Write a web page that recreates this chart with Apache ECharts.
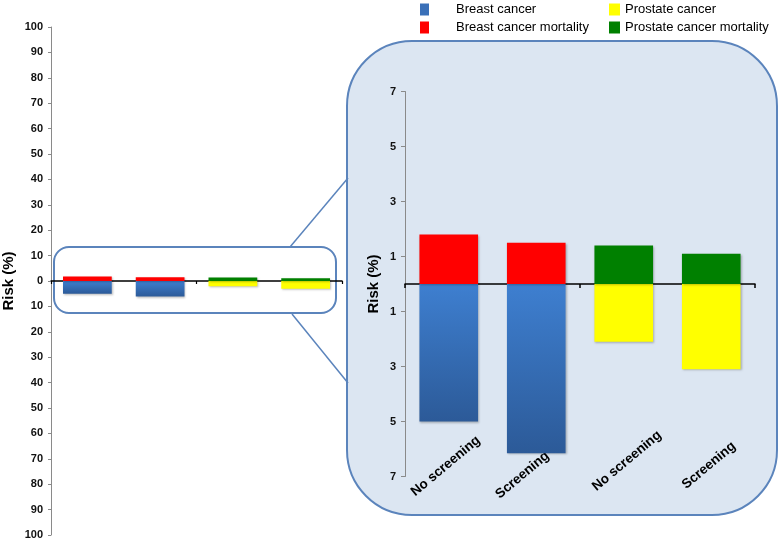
<!DOCTYPE html>
<html>
<head>
<meta charset="utf-8">
<script src="https://cdn.jsdelivr.net/npm/echarts@6/dist/echarts.min.js"></script>
<style>
html,body{margin:0;padding:0;background:#fff;}
#chart{width:779px;height:539px;}
</style>
</head>
<body>
<div id="chart"></div>
<script>
// ---- data ----
var categories = ['No screening', 'Screening', 'No screening', 'Screening'];
var breastMortality = [1.8, 1.5];
var breastIncidence = [5.0, 6.15];
var prostateMortality = [1.4, 1.1];
var prostateIncidence = [2.1, 3.1];
var leftAxisRange = [-100, 100, 10];   // min, max, interval (labels shown as absolute values)
var rightAxisRange = [-7, 7, 2];
var legendNames = ['Breast cancer', 'Breast cancer mortality', 'Prostate cancer', 'Prostate cancer mortality'];

var FONT = 'Liberation Sans, Arial, Helvetica, sans-serif';
var BLUE_GRAD = {
  type: 'linear', x: 0, y: 0, x2: 0, y2: 1,
  colorStops: [{offset: 0, color: '#3e7fd0'}, {offset: 1, color: '#2c5a98'}]
};
var colors = {
  'Breast cancer': BLUE_GRAD,
  'Breast cancer mortality': '#ff0000',
  'Prostate cancer': '#ffff00',
  'Prostate cancer mortality': '#008000'
};

function seriesData(name) {
  if (name === 'Breast cancer mortality') return [breastMortality[0], breastMortality[1], '-', '-'];
  if (name === 'Breast cancer') return [-breastIncidence[0], -breastIncidence[1], '-', '-'];
  if (name === 'Prostate cancer mortality') return ['-', '-', prostateMortality[0], prostateMortality[1]];
  return ['-', '-', -prostateIncidence[0], -prostateIncidence[1]];
}

var series = [];
[[0, 0, 'R'], [2, 1, 'L']].forEach(function (cfg) {
  legendNames.forEach(function (n) {
    series.push({
      name: n, type: 'bar', stack: cfg[2],
      xAxisIndex: cfg[0], yAxisIndex: cfg[1],
      barWidth: '67%',
      data: seriesData(n),
      itemStyle: {
        color: colors[n],
        shadowColor: 'rgba(0,0,0,0.25)', shadowBlur: 2, shadowOffsetX: 1, shadowOffsetY: 1
      },
      emphasis: {disabled: true},
      animation: false
    });
  });
});

function absFmt(v) { return String(Math.abs(Math.round(v))); }

// label nudges along the rotated text direction (layout only)
var labelRich = {
  p0: {padding: [0, 8, 0, 0]},
  p1: {padding: [0, 36, 0, 0]},
  p2: {padding: [0, 0, 0, 8]},
  p3: {padding: [0, 6, 0, 0]}
};
['p0', 'p1', 'p2', 'p3'].forEach(function (k) {
  labelRich[k].fontFamily = FONT;
  labelRich[k].fontSize = 13.5;
  labelRich[k].fontWeight = 'bold';
  labelRich[k].color = '#000';
});

var option = {
  animation: false,
  textStyle: {fontFamily: FONT},
  legend: [
    {
      left: 420, top: 3, padding: 0, orient: 'vertical', itemWidth: 9, itemHeight: 12, itemGap: 5,
      icon: 'rect', selectedMode: false,
      data: [{name: 'Breast cancer', itemStyle: {color: '#3a70b8'}}, {name: 'Breast cancer mortality'}],
      textStyle: {fontFamily: FONT, fontSize: 13, color: '#000', padding: [0, 0, 0, 22]}
    },
    {
      left: 609, top: 3, padding: 0, orient: 'vertical', itemWidth: 11, itemHeight: 12, itemGap: 5,
      icon: 'rect', selectedMode: false,
      data: ['Prostate cancer', 'Prostate cancer mortality'],
      textStyle: {fontFamily: FONT, fontSize: 13, color: '#000'}
    }
  ],
  graphic: [
    {type: 'rect', z: -10, silent: true,
      shape: {x: 347, y: 41, width: 430, height: 474, r: 65},
      style: {fill: '#dce6f2', stroke: '#5b84bc', lineWidth: 2}},
    {type: 'rect', z: -10, silent: true,
      shape: {x: 54, y: 247, width: 282, height: 66, r: 15},
      style: {fill: 'none', stroke: '#5b84bc', lineWidth: 2}},
    {type: 'line', z: -10, silent: true,
      shape: {x1: 290, y1: 247, x2: 348, y2: 178},
      style: {stroke: '#5b84bc', lineWidth: 1.5}},
    {type: 'line', z: -10, silent: true,
      shape: {x1: 292, y1: 314, x2: 348, y2: 383},
      style: {stroke: '#5b84bc', lineWidth: 1.5}}
  ],
  grid: [
    {left: 405, right: 24, top: 91.5, bottom: 62.5, outerBoundsMode: 'none', containLabel: false},
    {left: 51, right: 437, top: 27, bottom: 4, outerBoundsMode: 'none', containLabel: false}
  ],
  xAxis: [
    { // right categories (labels at bottom)
      type: 'category', gridIndex: 0, data: categories, position: 'bottom',
      axisLine: {show: false, onZero: false}, axisTick: {show: false},
      axisLabel: {
        interval: 0, rotate: 40, align: 'center', verticalAlign: 'middle', margin: -13,
        fontFamily: FONT, fontSize: 13.5, fontWeight: 'bold', color: '#000',
        formatter: function (v, i) { return '{p' + i + '|' + v + '}'; },
        rich: labelRich
      },
      splitLine: {show: false}
    },
    { // right zero line with group ticks
      type: 'value', gridIndex: 0, min: 0, max: 4, interval: 2, position: 'bottom',
      axisLine: {show: true, onZero: true, lineStyle: {color: '#000', width: 1.5}},
      axisTick: {show: true, length: 4, lineStyle: {color: '#000', width: 1.5}},
      axisLabel: {show: false}, splitLine: {show: false}
    },
    { // left categories (no labels)
      type: 'category', gridIndex: 1, data: categories,
      axisLine: {show: false, onZero: false}, axisTick: {show: false},
      axisLabel: {show: false}, splitLine: {show: false}
    },
    { // left zero line
      type: 'value', gridIndex: 1, min: 0, max: 4, interval: 2, position: 'bottom',
      axisLine: {show: true, onZero: true, lineStyle: {color: '#000', width: 1.5}},
      axisTick: {show: true, length: 3, lineStyle: {color: '#000', width: 1.2}},
      axisLabel: {show: false}, splitLine: {show: false}
    }
  ],
  yAxis: [
    {
      type: 'value', gridIndex: 0,
      min: rightAxisRange[0], max: rightAxisRange[1], interval: rightAxisRange[2],
      name: 'Risk (%)', nameLocation: 'middle', nameGap: 24, nameRotate: 90,
      nameTextStyle: {fontFamily: FONT, fontSize: 15, fontWeight: 'bold', color: '#000'},
      axisLine: {show: true, onZero: false, lineStyle: {color: '#8a8a8a', width: 1}},
      axisTick: {show: true, length: 4, lineStyle: {color: '#8a8a8a'}},
      axisLabel: {formatter: absFmt, margin: 9, fontFamily: FONT, fontSize: 11, fontWeight: 'bold', color: '#111'},
      splitLine: {show: false}
    },
    {
      type: 'value', gridIndex: 1,
      min: leftAxisRange[0], max: leftAxisRange[1], interval: leftAxisRange[2],
      name: 'Risk (%)', nameLocation: 'middle', nameGap: 35, nameRotate: 90,
      nameTextStyle: {fontFamily: FONT, fontSize: 15, fontWeight: 'bold', color: '#000'},
      axisLine: {show: true, onZero: false, lineStyle: {color: '#8a8a8a', width: 1}},
      axisTick: {show: true, length: 3, lineStyle: {color: '#8a8a8a'}},
      axisLabel: {formatter: absFmt, margin: 8, fontFamily: FONT, fontSize: 11, fontWeight: 'bold', color: '#111'},
      splitLine: {show: false}
    }
  ],
  series: series
};

var chart = echarts.init(document.getElementById('chart'), null, {renderer: 'canvas'});
chart.setOption(option);
</script>
</body>
</html>
